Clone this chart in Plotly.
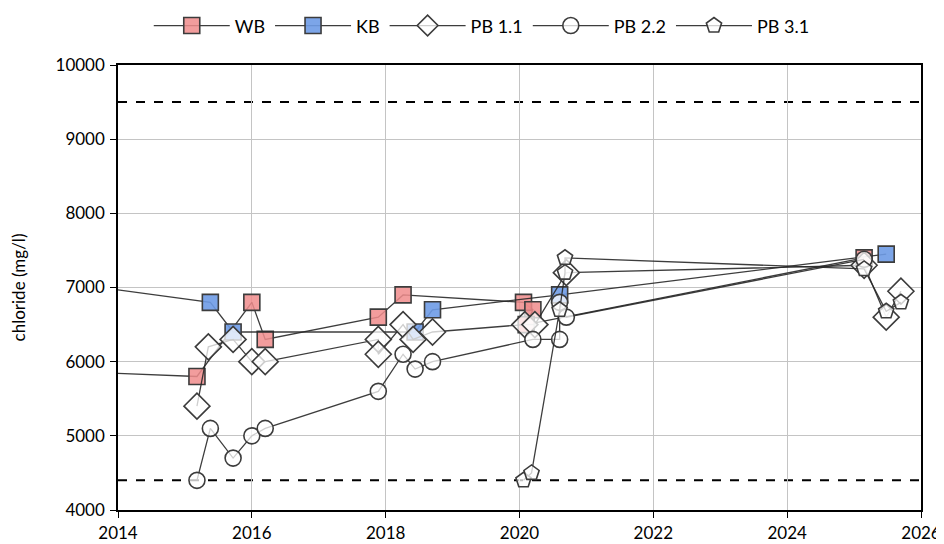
import plotly.graph_objects as go

# ---- data ----
wb_x = [2012.0, 2015.18, 2016.0, 2016.2, 2017.89, 2018.26, 2020.06, 2020.2, 2020.1, 2025.15]
wb_y = [5915, 5800, 6800, 6300, 6600, 6900, 6800, 6700, 6500, 7400]

kb_x = [2012.0, 2015.38, 2015.72, 2018.44, 2018.7, 2020.6, 2025.48]
kb_y = [7210, 6800, 6400, 6400, 6700, 6900, 7450]

pb11_x = [2015.18, 2015.35, 2015.72, 2016.0, 2016.2, 2017.89, 2017.89, 2018.26, 2018.41, 2018.7,
          2020.08, 2020.23, 2020.7, 2025.15, 2025.48, 2025.7]
pb11_y = [5400, 6200, 6300, 6000, 6000, 6300, 6100, 6500, 6300, 6400,
          6500, 6500, 7200, 7300, 6600, 6950]

pb22_x = [2015.18, 2015.38, 2015.72, 2016.0, 2016.2, 2017.89, 2018.26, 2018.44, 2018.7,
          2020.2, 2020.6, 2020.6, 2020.7, 2025.15]
pb22_y = [4400, 5100, 4700, 5000, 5100, 5600, 6100, 5900, 6000,
          6300, 6300, 6800, 6600, 7380]

pb31_x = [2020.06, 2020.18, 2020.6, 2020.68, 2020.68, 2025.15, 2025.48, 2025.7]
pb31_y = [4400, 4500, 6700, 7200, 7400, 7250, 6680, 6800]

limit_upper = 9500
limit_lower = 4400

x_ticks = [2014, 2016, 2018, 2020, 2022, 2024, 2026]
y_ticks = [4000, 5000, 6000, 7000, 8000, 9000, 10000]

# ---- figure ----
EDGE = "#3c3c3c"
LINE = "rgba(40,40,40,0.9)"
fig = go.Figure()

fig.add_hline(y=limit_upper, line=dict(color="black", width=2, dash="dash"), layer="below")
fig.add_hline(y=limit_lower, line=dict(color="black", width=2, dash="dash"), layer="below")

series = [
    ("WB", wb_x, wb_y, "square", 16, "rgba(240,140,140,0.85)"),
    ("KB", kb_x, kb_y, "square", 16, "rgba(110,155,230,0.9)"),
    ("PB 1.1", pb11_x, pb11_y, "diamond", 20, "rgba(255,255,255,0.75)"),
    ("PB 2.2", pb22_x, pb22_y, "circle", 16, "rgba(255,255,255,0.75)"),
    ("PB 3.1", pb31_x, pb31_y, "pentagon", 16, "rgba(255,255,255,0.75)"),
]
for name, xs, ys, sym, sz, fill in series:
    fig.add_trace(go.Scatter(
        x=xs, y=ys, name=name, mode="lines+markers",
        line=dict(color=LINE, width=1.3),
        marker=dict(symbol=sym, size=sz, color=fill, line=dict(color=EDGE, width=1.6)),
        cliponaxis=True,
    ))

# page body has an 8px margin, so the figure is sized/offset to compensate
fig.update_layout(
    width=936, height=536,
    paper_bgcolor="white", plot_bgcolor="white",
    margin=dict(l=110, r=23, t=57, b=34, autoexpand=False),
    font=dict(family="Lato, Open Sans, sans-serif", size=17, color="black"),
    showlegend=True,
    legend=dict(orientation="h", x=0.453, xanchor="center", y=1.088, yanchor="middle",
                font=dict(size=18), itemwidth=76, tracegroupgap=0,
                bgcolor="rgba(0,0,0,0)"),
)
fig.update_xaxes(
    range=[2014, 2026], tickvals=x_ticks, ticktext=[str(t) for t in x_ticks],
    showgrid=True, gridcolor="#c4c4c4", gridwidth=1.3,
    showline=True, linecolor="black", linewidth=1.5, mirror=True,
    ticks="outside", ticklen=6, tickcolor="black", tickfont=dict(size=17),
    ticklabelstandoff=1,
    zeroline=False, automargin=False,
)
fig.update_yaxes(
    range=[4000, 10000], tickvals=y_ticks, ticktext=[str(t) for t in y_ticks],
    showgrid=True, gridcolor="#c4c4c4", gridwidth=1.3,
    showline=True, linecolor="black", linewidth=1.5, mirror=True,
    ticks="outside", ticklen=6, tickcolor="black", tickfont=dict(size=17),
    ticklabelstandoff=2,
    title=dict(text="chloride (mg/l)", font=dict(size=17), standoff=36),
    zeroline=False, automargin=False,
)

fig.write_html("out.html")
